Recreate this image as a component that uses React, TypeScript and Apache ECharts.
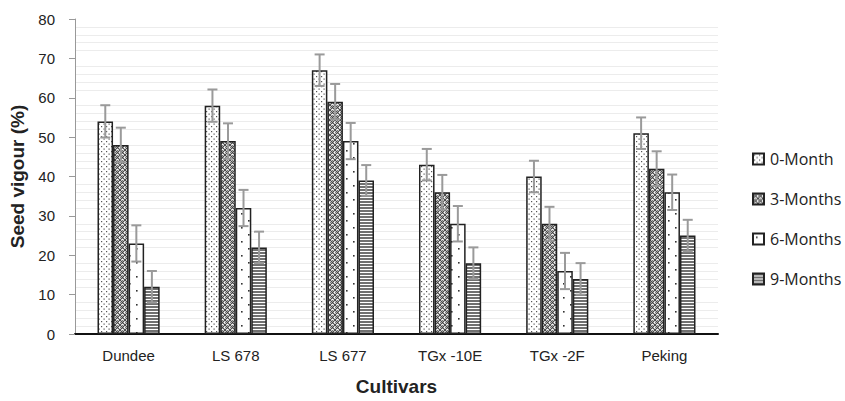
import React, { useEffect, useRef } from "react";
import * as echarts from "echarts";

const categories = ["Dundee", "LS 678", "LS 677", "TGx -10E", "TGx -2F", "Peking"];
const seriesNames = ["0-Month", "3-Months", "6-Months", "9-Months"];
const month0 = [54, 58, 67, 43, 40, 51];
const month3 = [48, 49, 59, 36, 28, 42];
const month6 = [23, 32, 49, 28, 16, 36];
const month9 = [12, 22, 39, 18, 14, 25];
const err0 = [4.1, 4.1, 4.0, 4.0, 4.0, 4.0];
const err3 = [4.4, 4.5, 4.5, 4.4, 4.3, 4.4];
const err6 = [4.6, 4.6, 4.6, 4.5, 4.6, 4.5];
const err9 = [4.0, 4.0, 3.9, 4.0, 4.0, 4.0];
const yTicks = { min: 0, max: 80, interval: 10 };

function makeTile(w: number, h: number, draw: (c: CanvasRenderingContext2D) => void) {
  const cv = document.createElement("canvas");
  cv.width = w;
  cv.height = h;
  const ctx = cv.getContext("2d")!;
  ctx.fillStyle = "#ffffff";
  ctx.fillRect(0, 0, w, h);
  draw(ctx);
  return cv;
}

function patterns() {
  const p0 = makeTile(5, 5, (c) => {
    c.fillStyle = "#555";
    c.fillRect(1, 1, 1.2, 1.2);
    c.fillRect(3.5, 3.5, 1.2, 1.2);
  });
  const p3 = makeTile(5, 5, (c) => {
    c.strokeStyle = "#444";
    c.lineWidth = 1.1;
    c.beginPath();
    c.moveTo(0, 0);
    c.lineTo(5, 5);
    c.moveTo(5, 0);
    c.lineTo(0, 5);
    c.stroke();
    c.fillStyle = "#777";
    c.fillRect(2, 0, 1, 1);
    c.fillRect(0, 2, 1, 1);
  });
  const p6 = makeTile(14, 14, (c) => {
    c.fillStyle = "#333";
    c.fillRect(3, 3, 1.6, 1.6);
    c.fillRect(10, 10, 1.6, 1.6);
  });
  const p9 = makeTile(4, 3, (c) => {
    c.fillStyle = "#707070";
    c.fillRect(0, 0, 4, 2);
  });
  return [p0, p3, p6, p9];
}

export default function App() {
  const ref = useRef<HTMLDivElement>(null);
  useEffect(() => {
    if (!ref.current) return;
    const chart = echarts.init(ref.current, null, { renderer: "svg" });
    const pats = patterns();
    const values = [month0, month3, month6, month9];
    const errs = [err0, err3, err6, err9];
    const catGap = 0.42;
    const errData: any[] = [];
    values.forEach((arr, s) => {
      arr.forEach((v, i) => errData.push([i, s, v, errs[s][i]]));
    });
    const barSeries = values.map((arr, s) => ({
      name: seriesNames[s],
      type: "bar",
      data: arr,
      barGap: "0%",
      barCategoryGap: catGap * 100 + "%",
      itemStyle: {
        color: { image: pats[s], repeat: "repeat" },
        borderColor: "#222",
        borderWidth: 1.5,
      },
      emphasis: { disabled: true },
    }));
    const option: any = {
      animation: false,
      backgroundColor: "#ffffff",
      grid: { left: 75, right: 127, top: 19, bottom: 63, containLabel: false },
      legend: {
        orient: "vertical",
        left: 752,
        top: 151,
        padding: 0,
        icon: "rect",
        itemWidth: 11,
        itemHeight: 11,
        itemGap: 24,
        data: seriesNames,
        textStyle: { fontFamily: "Open Sans", fontSize: 16, color: "#222", lineHeight: 16, padding: [0, 0, 0, 1] },
      },
      xAxis: {
        type: "category",
        data: categories,
        name: "Cultivars",
        nameLocation: "middle",
        nameGap: 43,
        nameTextStyle: { fontFamily: "Liberation Sans", fontSize: 19, fontWeight: "bold", color: "#222" },
        axisLine: { lineStyle: { color: "#111", width: 2 } },
        axisTick: { show: false },
        axisLabel: { fontFamily: "Liberation Sans", fontSize: 15, color: "#222", margin: 14 },
      },
      yAxis: {
        type: "value",
        min: yTicks.min,
        max: yTicks.max,
        interval: yTicks.interval,
        name: "Seed vigour (%)",
        nameLocation: "middle",
        nameGap: 47,
        nameTextStyle: { fontFamily: "Liberation Sans", fontSize: 19, fontWeight: "bold", color: "#222" },
        axisLine: { show: true, lineStyle: { color: "#999", width: 1 } },
        axisTick: { show: true, length: 6, lineStyle: { color: "#999" } },
        axisLabel: { fontFamily: "Liberation Sans", fontSize: 15, color: "#222", margin: 20 },
        splitLine: { show: false },
        minorTick: { show: false, splitNumber: 5 },
        minorSplitLine: { show: true, lineStyle: { color: "#ececec", width: 1 } },
      },
      series: [
        ...barSeries,
        {
          type: "custom",
          name: "err",
          data: errData,
          z: 10,
          silent: true,
          encode: { x: 0, y: 2 },
          renderItem: (params: any, api: any) => {
            const i = api.value(0);
            const s = api.value(1);
            const v = api.value(2);
            const e = api.value(3);
            const band = api.size([1, 0])[0];
            const bw = (band * (1 - catGap)) / 4;
            const off = (s - 1.5) * bw;
            const top = api.coord([i, v + e]);
            const bot = api.coord([i, v - e]);
            const x = top[0] + off;
            const cap = 5;
            const st = { stroke: "#9a9a9a", lineWidth: 2 };
            return {
              type: "group",
              children: [
                { type: "line", shape: { x1: x, y1: top[1], x2: x, y2: bot[1] }, style: st },
                { type: "line", shape: { x1: x - cap, y1: top[1], x2: x + cap, y2: top[1] }, style: st },
                { type: "line", shape: { x1: x - cap, y1: bot[1], x2: x + cap, y2: bot[1] }, style: st },
              ],
            };
          },
        },
      ],
    };
    chart.setOption(option);
    return () => chart.dispose();
  }, []);
  return (
    <div
      ref={ref}
      style={{ position: "fixed", left: 0, top: 0, width: 845, height: 401, background: "#fff" }}
    />
  );
}
